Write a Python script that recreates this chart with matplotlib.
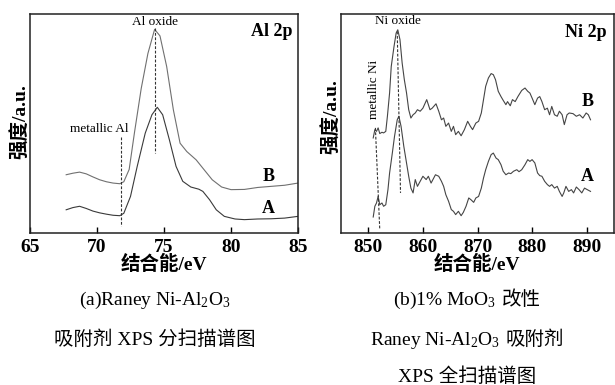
import matplotlib
matplotlib.use("Agg")
import matplotlib.pyplot as plt

plt.rcParams['font.family'] = ['Liberation Serif', 'Noto Sans CJK SC']
plt.rcParams['mathtext.fontset'] = 'custom'
plt.rcParams['mathtext.rm'] = 'Liberation Serif'
plt.rcParams['mathtext.it'] = 'Liberation Serif'

# Al 2p spectra
al_x_b = [67.7, 68.2, 68.7, 69.2, 69.7, 70.2, 70.7, 71.2, 71.7, 72.0, 72.4, 72.8, 73.3, 73.8,
          74.3, 74.7, 75.2, 75.7, 76.2, 76.7, 77.4, 77.9, 78.6, 79.3, 80.0, 81.0, 82.0, 83.0, 84.0, 85.0]
al_y_b = [26.6, 27.3, 27.8, 27.0, 25.6, 24.3, 23.4, 22.8, 22.5, 23.4, 29.0, 46.0, 66.0, 82.0,
          93.0, 90.0, 76.0, 56.2, 41.0, 37.2, 33.4, 29.6, 24.3, 21.0, 19.8, 19.9, 20.8, 21.3, 21.8, 22.8]
al_x_a = [67.7, 68.2, 68.7, 69.2, 69.7, 70.2, 70.7, 71.2, 71.7, 72.0, 72.5, 73.0, 73.6, 74.1,
          74.5, 74.9, 75.4, 75.9, 76.4, 77.0, 77.6, 77.9, 78.4, 78.9, 79.5, 80.3, 81.0, 82.0, 83.0, 84.0, 85.0]
al_y_a = [10.6, 11.6, 12.2, 11.2, 10.0, 9.2, 8.6, 8.1, 7.9, 9.0, 16.7, 30.4, 45.6, 54.0,
          57.4, 54.0, 42.6, 30.4, 23.6, 21.0, 20.0, 19.0, 15.2, 10.6, 7.6, 6.4, 6.1, 6.4, 6.5, 6.8, 7.6]

# Ni 2p spectra
ni_x_b = [850.9, 851.2, 851.5, 851.8, 852.1, 852.5, 852.8, 853.2, 853.5, 853.9, 854.2, 854.7,
          855.1, 855.4, 855.8, 856.2, 856.6, 857.0, 857.4, 857.8, 858.2, 858.6, 859.0, 859.5,
          860.0, 860.7, 861.3, 861.7, 862.4, 862.9, 863.4, 863.8, 864.2, 864.7, 865.2, 865.6,
          866.0, 866.5, 867.0, 867.6, 868.2, 868.7, 869.1, 869.7, 870.2, 870.7, 871.1, 871.5,
          872.0, 872.5, 872.9, 873.3, 873.8, 874.3, 874.7, 875.2, 875.5, 876.0, 876.4, 876.9,
          877.4, 877.8, 878.1, 878.7, 879.2, 879.6, 880.0, 880.5, 881.0, 881.4, 881.8, 882.3,
          882.8, 883.2, 883.6, 884.1, 884.6, 885.0, 885.5, 885.9, 886.4, 886.8, 887.5, 888.1,
          888.7, 889.3, 889.9, 890.3, 890.7]
ni_y_b = [43.4, 47.2, 46.4, 48.0, 45.4, 46.0, 45.7, 46.4, 53.3, 64.0, 76.0, 85.0,
          91.3, 92.8, 88.3, 77.6, 70.0, 64.0, 56.3, 52.5, 54.0, 54.8, 56.3, 55.6,
          57.0, 60.9, 56.3, 57.0, 59.0, 55.6, 51.7, 52.5, 48.7, 50.2, 46.4, 48.7,
          44.9, 46.4, 44.4, 47.2, 51.0, 48.7, 47.2, 50.2, 51.0, 54.8, 60.9, 67.0,
          70.8, 72.8, 72.3, 70.0, 64.7, 62.3, 60.6, 58.6, 60.0, 58.1, 60.9, 60.0,
          62.3, 63.9, 65.1, 66.2, 64.7, 63.9, 61.6, 58.6, 61.6, 62.3, 60.0, 56.3,
          57.0, 54.0, 57.8, 54.0, 53.3, 55.6, 54.0, 49.5, 54.0, 54.8, 54.5, 53.3,
          54.0, 52.5, 54.8, 54.0, 51.7]
ni_x_a = [850.9, 851.2, 851.5, 851.8, 852.1, 852.5, 852.8, 853.2, 853.6, 853.9, 854.4, 854.8,
          855.3, 855.6, 856.0, 856.5, 857.0, 857.4, 857.8, 858.2, 858.6, 859.0, 859.5, 860.0,
          860.6, 861.0, 861.5, 862.3, 862.9, 863.4, 863.8, 864.2, 864.7, 865.2, 865.6, 866.0,
          866.5, 867.0, 867.4, 867.9, 868.4, 868.8, 869.3, 869.7, 870.2, 870.7, 871.1, 871.5,
          872.0, 872.5, 872.9, 873.4, 873.8, 874.3, 874.7, 875.2, 875.7, 876.1, 876.6, 877.2,
          877.6, 878.1, 878.7, 879.2, 879.6, 880.0, 880.5, 881.0, 881.4, 881.8, 882.3, 882.8,
          883.2, 883.6, 884.1, 884.6, 885.0, 885.5, 885.8, 886.2, 886.7, 887.2, 887.6, 888.1,
          888.6, 889.1, 889.6, 890.1, 890.7]
ni_y_a = [7.3, 12.2, 13.7, 16.7, 12.9, 13.7, 12.2, 12.9, 19.8, 27.4, 36.5, 44.1,
          51.7, 53.3, 48.7, 39.6, 32.0, 25.9, 20.5, 18.3, 24.4, 21.3, 23.6, 25.9,
          24.4, 25.9, 22.8, 26.6, 25.9, 23.6, 21.3, 17.5, 14.5, 10.7, 9.9, 8.4,
          9.9, 7.9, 9.4, 12.2, 16.0, 15.2, 14.0, 16.0, 16.7, 20.5, 25.1, 28.9,
          32.7, 35.8, 36.5, 34.2, 33.5, 31.2, 28.2, 26.6, 27.4, 27.1, 28.2, 28.9,
          28.0, 28.9, 31.2, 33.5, 32.7, 33.5, 32.0, 27.4, 26.2, 25.9, 23.6, 22.1,
          21.3, 22.1, 20.5, 21.3, 19.0, 16.7, 18.3, 21.3, 19.0, 19.8, 18.3, 21.0,
          19.8, 18.3, 20.5, 19.8, 19.0]

al_ticks = [65, 70, 75, 80, 85]
ni_ticks = [850, 860, 870, 880, 890]

W, H = 615, 385
fig = plt.figure(figsize=(W / 100, H / 100), dpi=100)


def make_axes(left, right):
    ax = fig.add_axes([left / W, (H - 233) / H, (right - left) / W, 219 / H])
    ax.set_ylim(0, 100)
    ax.set_yticks([])
    ax.tick_params(axis='x', direction='in', length=4, width=1, pad=4, labelsize=14)
    for sp in ax.spines.values():
        sp.set_linewidth(1.1)
        sp.set_color('#222222')
    ax.set_xlabel('结合能/eV', fontsize=14, fontweight='bold')
    ax.xaxis.set_label_coords(0.5, -0.145)
    ax.xaxis.label.set_va('center')
    ax.set_ylabel('强度/a.u.', fontsize=14, fontweight='bold')
    ax.yaxis.label.set_va('center')
    return ax


dash = (0, (2.5, 1.5))

# (a) Al 2p
ax1 = make_axes(30, 298)
ax1.set_xlim(65, 85)
ax1.set_xticks(al_ticks)
ax1.set_xticklabels([str(t) for t in al_ticks], fontweight='bold')
ax1.yaxis.set_label_coords(-0.037, 0.51)
ax1.plot(al_x_b, al_y_b, color='#707070', lw=0.8)
ax1.plot(al_x_a, al_y_a, color='#3a3a3a', lw=0.8)
ax1.plot([71.8, 71.8], [44, 3], color='#333333', lw=0.8, ls=dash)
ax1.plot([74.3, 74.3], [93.5, 36.5], color='#333333', lw=0.8, ls=dash)
ax1.text(74.3, 96.5, 'Al oxide', fontsize=9.5, ha='center', va='center')
ax1.text(70.2, 47.6, 'metallic Al', fontsize=9.5, ha='center', va='center')
ax1.text(84.6, 92, 'Al 2p', fontsize=13, fontweight='bold', ha='right', va='center')
ax1.text(82.8, 26, 'B', fontsize=13, fontweight='bold', ha='center', va='center')
ax1.text(82.8, 11.4, 'A', fontsize=13, fontweight='bold', ha='center', va='center')

# (b) Ni 2p
ax2 = make_axes(341, 614)
ax2.set_xlim(845, 895)
ax2.set_xticks(ni_ticks)
ax2.set_xticklabels([str(t) for t in ni_ticks], fontweight='bold')
ax2.yaxis.set_label_coords(-0.033, 0.53)
ax2.plot(ni_x_b, ni_y_b, color='#454545', lw=0.8)
ax2.plot(ni_x_a, ni_y_a, color='#454545', lw=0.8)
ax2.plot([851.3, 852.1], [48, 1.5], color='#333333', lw=0.8, ls=dash)
ax2.plot([855.3, 855.9], [92, 18.3], color='#333333', lw=0.8, ls=dash)
ax2.text(855.5, 97, 'Ni oxide', fontsize=9.5, ha='center', va='center')
ax2.text(851.1, 65.4, 'metallic Ni', fontsize=9.5, ha='center', va='center', rotation=90)
ax2.text(893.6, 91.6, 'Ni 2p', fontsize=13, fontweight='bold', ha='right', va='center')
ax2.text(890.2, 60, 'B', fontsize=13, fontweight='bold', ha='center', va='center')
ax2.text(890.2, 25.9, 'A', fontsize=13, fontweight='bold', ha='center', va='center')


# captions: mathtext can't fall back to the CJK font, so split the line into pieces
def caption(parts, cx, cy, size=14, gap=5):
    renderer = fig.canvas.get_renderer()
    base = 1 - (cy + 5) / H
    texts = [fig.text(0, base, s, fontsize=size, ha='left', va='baseline') for s in parts]
    widths = [t.get_window_extent(renderer).width for t in texts]
    x = cx - (sum(widths) + gap * (len(parts) - 1)) / 2
    for t, w in zip(texts, widths):
        t.set_x(x / W)
        x += w + gap


caption(['(a)Raney Ni-Al$_2$O$_3$'], 155, 300)
caption(['吸附剂 XPS 分扫描谱图'], 155, 340)
caption(['(b)1% MoO$_3$', '改性'], 467, 300)
caption(['Raney Ni-Al$_2$O$_3$', '吸附剂'], 467, 340)
caption(['XPS 全扫描谱图'], 467, 377)

fig.savefig('out.png', dpi=100, facecolor='white')
